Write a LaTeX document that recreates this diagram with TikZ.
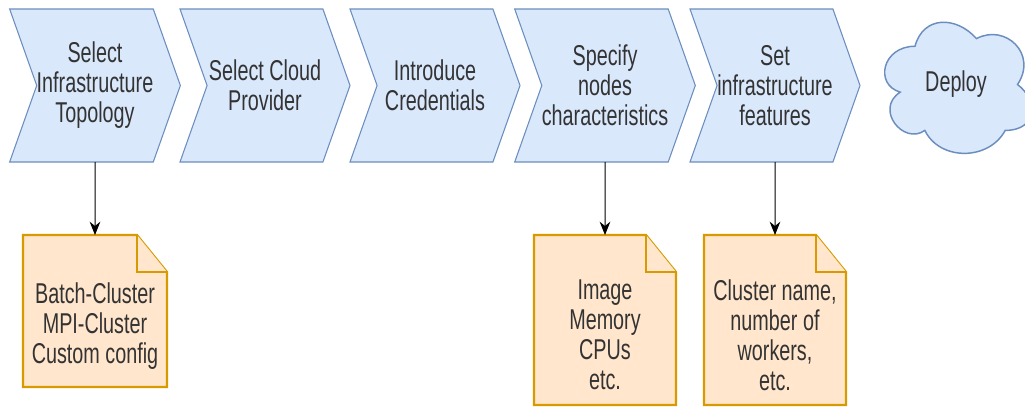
\documentclass[tikz,border=0pt]{standalone}
\usepackage{fontspec}
\setmainfont[FakeStretch=0.69]{Liberation Sans}
\usetikzlibrary{positioning,shapes.symbols,arrows.meta,calc}
\definecolor{stepfill}{HTML}{DAE8FC}
\definecolor{stepline}{HTML}{6C8EBF}
\definecolor{notefill}{HTML}{FFE6CC}
\definecolor{noteline}{HTML}{D79B00}
\definecolor{txt}{HTML}{333333}

\begin{document}
\begin{tikzpicture}[x=0.75pt,y=-0.75pt,
  every node/.style={font=\fontsize{21.5}{22.5}\selectfont, text=txt, align=center},
  stepbox/.style={signal, signal to=east, signal from=west, signal pointer angle=141,
    draw=stepline, fill=stepfill, line width=0.8pt, minimum width=127.5pt,
    minimum height=114.75pt, inner sep=0pt, outer sep=0pt},
  notebox/.style={rectangle, minimum width=106.5pt, minimum height=127.5pt,
    inner sep=0pt, outer sep=0pt},
  notedraw/.style={draw=noteline, fill=notefill, line width=1.6pt, line join=miter},
  clouddraw/.style={draw=stepline, fill=stepfill, line width=1.1pt},
  link/.style={-{Stealth[length=10pt,width=8pt]}, line width=0.75pt, black}
]
\useasboundingbox (0,0) rectangle (1025,408);
\fill[white] (0,0) rectangle (1025,408);

% steps
\node[stepbox] (s1) at (95,85.5) {Select\\Infrastructure\\Topology};
\node[stepbox] (s2) at (265,85.5) {Select Cloud\\Provider};
\node[stepbox] (s3) at (435,85.5) {Introduce\\Credentials};
\node[stepbox] (s4) at (605,85.5) {Specify\\nodes\\characteristics};
\node[stepbox] (s5) at (775,85.5) {Set\\infrastructure\\features};

% deploy cloud
\begin{scope}[shift={(874,8)}, xscale=164, yscale=153]
\draw[clouddraw] (0.25,0.25) .. controls (0.05,0.25) and (0,0.5) .. (0.16,0.55)
  .. controls (0,0.66) and (0.18,0.9) .. (0.31,0.8)
  .. controls (0.4,1) and (0.7,1) .. (0.8,0.8)
  .. controls (1,0.8) and (1,0.6) .. (0.875,0.5)
  .. controls (1,0.3) and (0.8,0.1) .. (0.625,0.2)
  .. controls (0.5,0.05) and (0.3,0.05) .. (0.25,0.25) -- cycle;
\end{scope}
\node (deploy) at (956,84.5) {Deploy};

% notes
\node[notebox, minimum width=108pt, minimum height=114pt] (d1) [below=54.75pt of s1] {};
\node[notebox] (d2) [below=54.75pt of s4] {};
\node[notebox] (d3) [below=54.75pt of s5] {};

\draw[notedraw] (d1.north west) -- ($(d1.north east)+(-30,0)$) -- ($(d1.north east)+(0,37)$)
  -- (d1.south east) -- (d1.south west) -- cycle;
\draw[notedraw] ($(d1.north east)+(-30,0)$) -- ($(d1.north east)+(-30,37)$) -- ($(d1.north east)+(0,37)$);
\draw[notedraw] (d2.north west) -- ($(d2.north east)+(-30,0)$) -- ($(d2.north east)+(0,37)$)
  -- (d2.south east) -- (d2.south west) -- cycle;
\draw[notedraw] ($(d2.north east)+(-30,0)$) -- ($(d2.north east)+(-30,37)$) -- ($(d2.north east)+(0,37)$);
\draw[notedraw] (d3.north west) -- ($(d3.north east)+(-30,0)$) -- ($(d3.north east)+(0,37)$)
  -- (d3.south east) -- (d3.south west) -- cycle;
\draw[notedraw] ($(d3.north east)+(-30,0)$) -- ($(d3.north east)+(-30,37)$) -- ($(d3.north east)+(0,37)$);

\node (t1) at ($(d1.center)+(0,15)$) {Batch-Cluster\\MPI-Cluster\\Custom config};
\node (t2) at ($(d2.center)+(0,15)$) {Image\\Memory\\CPUs\\etc.};
\node (t3) at ($(d3.center)+(0,15)$) {Cluster name,\\number of\\workers,\\etc.};

% links
\draw[link] (s1) -- (d1);
\draw[link] (s4) -- (d2);
\draw[link] (s5) -- (d3);
\end{tikzpicture}
\end{document}
